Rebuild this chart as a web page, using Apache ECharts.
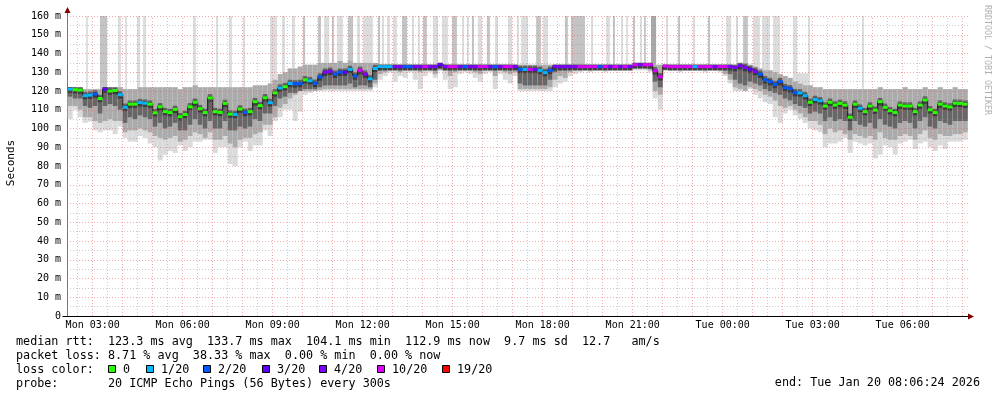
<!DOCTYPE html>
<html><head><meta charset="utf-8">
<script src="https://cdn.jsdelivr.net/npm/echarts@6/dist/echarts.min.js"></script>
<style>html,body{margin:0;padding:0;background:#fff}#c{width:997px;height:397px}</style>
</head><body><div id="c"></div>
<script>
// time axis in hours since Mon 00:00; each step = 10 minutes, first step starts Mon 02:10
const stepStartHour = 2 + 10 / 60;
const stepHours = 10 / 60;
const axisStartHour = 2.143;
const axisEndHour = 32.177;

// median RTT (ms) per step
const median = [
121,120.7,120.5,117.5,117.8,118.4,116,121,120,120.3,
118,111.3,113,113,113.8,113.5,113,108.4,111.6,109,
108.5,110.2,106.3,107.5,111.6,114,110.6,108.5,116.3,109,
108.6,113.4,107.7,107.5,110.4,108.6,109,114.3,112.2,116.4,
113.8,119,121.6,122.3,124,123.8,124,126,125.5,124.1,
127.5,130,130.5,129,130,130,131.5,128,131,129,
126.5,132,133,133,133,133,133,133,133,133,
133,133,133,133,134,133,133,133,133,133,
133,133,133,133,133,133,133,133,133,133,
131.5,131.5,131.5,131.5,131,129.8,131,133,133,133,
133,133,133,133,133,133,133,133,133,133,
133,133,133,134,134,134,134,130.8,127.6,133.3,
133,133,133,133,133,133,133,133,133,133,
133,133,133,132.5,133.5,132.5,131.5,130.5,129,126,
125,123.5,125,121.8,121.2,119.1,119,117.5,114,115.5,
114.8,112,114,112.5,113.4,112.5,106,113,110.8,109,
112,109.8,114.3,111.3,109.5,108.5,112.5,112,112,109,
112.5,115.2,110,108.5,113,112,111.5,113.5,113.4,113];

// lost pings (of 20) per step
const lossCount = [
1,0,0,1,1,2,0,3,0,0,
1,1,0,0,1,1,0,0,0,0,
0,0,0,0,0,0,0,0,0,0,
0,0,0,1,0,2,0,0,0,0,
1,0,1,0,1,2,2,0,1,2,
2,4,4,2,2,3,1,2,10,4,
1,1,1,1,1,4,4,2,2,4,
4,10,4,4,3,4,10,10,4,2,
4,4,10,10,4,2,4,10,10,4,
2,1,10,4,1,1,2,4,4,4,
4,4,10,10,10,10,2,10,4,10,
4,10,4,10,4,10,10,10,10,10,
10,10,10,10,10,1,10,10,10,4,
10,10,4,4,4,4,3,4,2,2,
2,2,2,2,2,2,1,1,0,1,
1,0,0,0,0,0,0,0,1,0,
0,0,0,0,0,0,0,0,0,0,
0,0,0,0,0,0,0,0,0,0];

// smoke: lowest ping, lower medium edge, lower dark edge, upper edge (ms)
const smokeMin = [
105,110,106,103,103.6,99,98,99,99,97,
101,95,93,93,96,95,92,90,83,86,
88,87,91,88,90,93,93,94,94,87,
90,90,81,80,90,93,88,91,91,99,
96,104,106,110,110,104,109,118,119,120,
120,120,120,120,120,120,120,120,120,120,
120,122,126,128,130,125,128,127,130,126,
121,128,130,127,131,126,121,122,129,130,
129,127,125,129,130,121,129,126,124,128,
120,120,120,120,120,120,120,122,124,125,
128,129,130,131,130,131,131,130,131,131,
131,131,131,131,131,131,130,116,110,131,
131,131,130,131,131,131,131,130,131,131,
130,128,124,120,120,120,121,118,116,114,
113,106,103,108,110,107,105,103,100,99,
98,90,92,92,93,95,87,93,92,91,
92,84,86,91,90,86,92,93,94,89,
92,93,90,88,91,89,93,93,93,94];
const smokeLow = [
112,112,110,106,106,104,103,104,105,104,
104,98,99,99,100,99,98,96,95,94,
95,96,93,94,96,98,97,95,98,94,
94,96,92,90,94,95,95,97,98,102,
102,106,111,113,116,118,120,120,120,120,
120.5,121,121,121,121,121,121,121,121,121,
121,124,129,130,131,131,130,131,131,131,
130,131,131,129,131,131,128,130,131,131,
131,130,129,131,131,128,131,130,129,130,
121,121,121,121,121,121,122,126,128,127,
130,131,131,131,131,131,131,131,131,131,
131,131,131,132,132,132,131,120,118,131,
131,131,131,131,131,131,131,131,131,131,
131,129,126,122,121,120,122,121,120,118,
117,115,112,111,112,110,108,106,104,104,
102,97,100,98,99,97,94,97,96,95,
96,94,98,95,94,94,96,97,96,94,
97,99,95,94,97,96,96,97,97,98];
const smokeDark = [
117,116,116,112,111,112,108,112,113,112,
110,103,106,105,107,106,105,101,103,100,
101,103,99,99,102,105,102,100,104,100,
100,104,99,99,101,100,101,105,104,108,
108,112,116,117,119,119,120,121,121,121,
122,123,123,123,123,123,124,122,123,123,
122,126,131,132,132,132,132,132,132,132,
132,132,132,131,132,132,131,132,132,132,
132,132,131,132,132,131,132,132,131,132,
124,123,123,123,123,123,126,130,131,131,
132,132,132,132,132,132,132,132,132,132,
132,132,132,133,133,133,132,125,122,132,
132,132,132,132,132,132,132,132,132,132,
132,131,129,126,124,123,125,124,123,121,
120,119,118,116,115,113,112,111,108,109,
108,104,106,104,105,104,99,104,102,101,
103,100,105,102,101,100,103,104,103,100,
104,106,101,100,104,103,102,104,104,104];
const smokeTop = [
122,122,122,121,121,121,121,122,122,122,
122,121,121,121,122,122,122,122,122,122,
122,122,121,122,122,123,122,122,122,122,
122,122,122,122,122,122,122,123,123,123,
124,126,129,130,132,132,133,134,134,134,
135,135,135,135,136,135,136,135,135,135,
135,135,134,134,134,134,134,134,134,134,
134,134,134,134,135,134,134,134,134,134,
134,134,134,134,134,134,134,134,134,134,
134,134,134,134,134,134,134,134,134,134,
134,134,134,134,134,134,134,134,134,134,
134,134,134,135,135,135,135,134,134,134,
134,134,134,134,134,134,134,134,134,134,
134,134,134,134,135,135,134,133,132,131,
131,130,129,128,127,125,124,123,123,122,
122,121,121,121,121,121,121,121,121,121,
121,121,122,121,121,121,121,122,121,121,
121,122,121,121,122,121,121,122,121,121];

// isolated high pings: [fromHour, toHour, baseMs, topMs, pingsCount]
const spikes = [
[2.78,2.84,121,160,1],[3.24,3.48,121,160,2],[3.84,3.94,121,160,1],[4.08,4.14,121,160,1],
[4.48,4.58,121,160,1],[4.68,4.78,121,160,1],[6.34,6.44,121,160,1],[7.11,7.18,121,160,1],
[7.54,7.64,121,160,1],[8.01,8.08,121,160,1],[8.91,9.14,122,160,1],[9.31,9.41,128,160,1],
[9.64,9.74,130,160,1],[10.01,10.08,133,160,2],[10.51,10.61,133,160,2],[10.71,10.88,133,160,1],
[10.98,11.04,133,160,2],[11.14,11.34,133,160,1],[11.51,11.68,133,160,2],[11.81,11.91,133,160,1],
[12.01,12.34,133,160,1],[12.51,12.58,133,160,2],[12.64,12.71,133,160,1],[12.81,12.91,133,160,1],
[13.01,13.14,133,160,1],[13.31,13.48,133,160,2],[13.64,13.71,133,160,1],[13.84,13.91,133,160,1],
[14.01,14.14,133,160,2],[14.34,14.51,133,160,1],[14.64,14.84,133,160,1],[14.98,15.14,133,160,2],
[15.31,15.38,133,160,1],[15.48,15.54,133,160,1],[15.64,15.71,133,160,2],[15.84,15.98,133,160,1],
[16.14,16.24,133,160,2],[16.41,16.51,133,160,1],[16.84,16.98,133,160,1],[17.14,17.21,133,160,1],
[17.28,17.51,133,160,1],[17.78,17.94,133,160,2],[18.01,18.18,133,160,1],[18.74,18.84,133,160,2],
[18.94,19.41,133,160,2],[19.61,19.68,133,160,1],[20.11,20.24,133,160,1],[20.34,20.41,133,160,2],
[20.61,20.68,133,160,1],[20.78,20.84,133,160,1],[21.01,21.08,133,160,2],[21.24,21.31,133,160,1],
[21.38,21.44,133,160,2],[21.61,21.78,133,160,3],[22.11,22.18,133,160,1],[22.51,22.58,133,160,2],
[23.01,23.08,133,160,1],[23.51,23.58,133,160,2],[24.11,24.28,133,160,1],[24.44,24.51,133,160,1],
[24.68,24.84,133,160,2],[25.01,25.24,130,160,1],[25.31,25.58,128,160,1],[25.68,25.91,126,160,1],
[26.34,26.48,122,160,1],[26.48,26.91,122,129.5,1],[26.84,26.91,121,160,1],[28.64,28.71,121,160,1]];

const lossLevels = [0, 1, 2, 3, 4, 10, 19];
const lossColors = ['#26ff00', '#00b8ff', '#0059ff', '#5e00ff', '#7e00ff', '#dd00ff', '#ff0000'];
const lossLegend = ['0', '1/20', '2/20', '3/20', '4/20', '10/20', '19/20'];

const xTickHours = [3, 6, 9, 12, 15, 18, 21, 24, 27, 30];
const xTickLabels = ['Mon 03:00','Mon 06:00','Mon 09:00','Mon 12:00','Mon 15:00','Mon 18:00','Mon 21:00','Tue 00:00','Tue 03:00','Tue 06:00'];

const statLines = [
  'median rtt:  123.3 ms avg  133.7 ms max  104.1 ms min  112.9 ms now  9.7 ms sd  12.7   am/s',
  'packet loss: 8.71 % avg  38.33 % max  0.00 % min  0.00 % now',
  'loss color:',
  'probe:       20 ICMP Echo Pings (56 Bytes) every 300s'
];
const endText = 'end: Tue Jan 20 08:06:24 2026';

const MONO = 'DejaVu Sans Mono';

const stepData = median.map((m, i) => [stepStartHour + i * stepHours, smokeMin[i], smokeLow[i], smokeDark[i], smokeTop[i], m, lossCount[i]]);
const medianLine = median.map((m, i) => [stepStartHour + i * stepHours, m]);
medianLine.push([stepStartHour + median.length * stepHours, median[median.length - 1]]);

function renderSmoke(params, api) {
  const t0 = api.value(0), t1 = t0 + stepHours;
  const xL = api.coord([t0, 0])[0], xR = api.coord([t1, 0])[0];
  const y = v => api.coord([t0, v])[1];
  const mn = api.value(1), lo = api.value(2), dk = api.value(3), tp = api.value(4), md = api.value(5);
  const rect = (a, b, fill) => ({type: 'rect', shape: {x: xL, y: y(b), width: xR - xL, height: Math.max(0, y(a) - y(b))}, style: {fill}});
  return {type: 'group', children: [
    rect(mn, tp, '#dadada'),
    rect(lo, tp, '#ababab'),
    rect(dk, Math.min(tp, md + 2), '#666666'),
    rect(md - 2, Math.min(tp, md + 1), '#3c3c3c')
  ]};
}
function renderMedian(params, api) {
  const t0 = api.value(0), t1 = t0 + stepHours;
  const p0 = api.coord([t0, api.value(5)]), p1 = api.coord([t1, api.value(5)]);
  const idx = lossLevels.indexOf(api.value(6));
  return {type: 'rect', shape: {x: p0[0], y: p0[1] - 1.5, width: p1[0] - p0[0], height: 3}, style: {fill: lossColors[idx < 0 ? 0 : idx]}};
}
const spikeShade = ['#ffffff', '#dcdcdc', '#c4c4c4', '#a8a8a8'];
function renderSpike(params, api) {
  const a = api.coord([api.value(0), api.value(3)]);
  const b = api.coord([api.value(1), api.value(2)]);
  return {type: 'rect', shape: {x: a[0], y: a[1], width: b[0] - a[0], height: b[1] - a[1]}, style: {fill: spikeShade[api.value(4)]}};
}

function gridSeries(vals, key, color, z) {
  return {type: 'line', data: [], silent: true, z, animation: false,
    markLine: {silent: true, symbol: ['none', 'none'], label: {show: false}, animation: false,
      lineStyle: {color, width: 1, type: [1, 2]}, emphasis: {disabled: true},
      data: vals.map(v => ({[key]: v}))}};
}
const yMajor = [], yMinor = [], xMajor = [], xMinor = [];
for (let v = 10; v <= 160; v += 10) yMajor.push(v);
for (let v = 5; v < 160; v += 10) yMinor.push(v);
for (let h = 3; h <= 32; h++) xMajor.push(h);
for (let h = 2.5; h <= 32; h++) xMinor.push(h);

const graphics = [
  {type: 'text', x: 11, y: 163, rotation: Math.PI / 2, style: {text: 'Seconds', font: '11px ' + MONO, fill: '#000', textAlign: 'center', textVerticalAlign: 'middle'}},
  {type: 'text', x: 987, y: 60, rotation: -Math.PI / 2, style: {text: 'RRDTOOL / TOBI OETIKER', font: '8.3px ' + MONO, fill: '#b0b0b0', textAlign: 'center', textVerticalAlign: 'middle'}},
  {type: 'line', shape: {x1: 67.5, y1: 16, x2: 67.5, y2: 11}, style: {stroke: '#777', lineWidth: 1}},
  {type: 'polygon', shape: {points: [[64.5, 13], [70.5, 13], [67.5, 7]]}, style: {fill: '#800000'}},
  {type: 'line', shape: {x1: 62.5, y1: 316.5, x2: 968, y2: 316.5}, style: {stroke: '#000', lineWidth: 1}},
  {type: 'polygon', shape: {points: [[968, 313.5], [968, 319.5], [974, 316.5]]}, style: {fill: '#800000'}},
  {type: 'text', x: 980, y: 383, style: {text: endText, font: '11.75px ' + MONO, fill: '#000', textAlign: 'right', textVerticalAlign: 'middle'}}
];
const lineY = [341.5, 355.5, 369.5, 383.5];
statLines.forEach((t, i) => graphics.push({type: 'text', x: 16, y: lineY[i], style: {text: t, font: '11.75px ' + MONO, fill: '#000', textVerticalAlign: 'middle'}}));
const boxX = [108, 146, 203, 262, 319, 377, 442];
lossLegend.forEach((t, i) => {
  graphics.push({type: 'rect', shape: {x: boxX[i] + 0.5, y: 365.5, width: 7, height: 7}, style: {fill: lossColors[i], stroke: '#000', lineWidth: 1}});
  graphics.push({type: 'text', x: boxX[i] + 15, y: 369.5, style: {text: t, font: '11.75px ' + MONO, fill: '#000', textVerticalAlign: 'middle'}});
});

const chart = echarts.init(document.getElementById('c'), null, {renderer: 'canvas'});
chart.setOption({
  animation: false,
  backgroundColor: '#fff',
  grid: {left: 67, right: 29, top: 16, bottom: 81, containLabel: false},
  xAxis: {type: 'value', min: axisStartHour, max: axisEndHour,
    axisLine: {show: false},
    axisTick: {show: false},
    splitLine: {show: false},
    axisLabel: {customValues: xTickHours, margin: 4, color: '#000', fontFamily: MONO, fontSize: 10,
      formatter: v => xTickLabels[xTickHours.indexOf(Math.round(v))] || ''}},
  yAxis: {type: 'value', min: 0, max: 160, interval: 10,
    axisLine: {show: true, lineStyle: {color: '#777'}},
    axisTick: {show: false},
    splitLine: {show: false},
    axisLabel: {margin: 6, color: '#000', fontFamily: MONO, fontSize: 10, formatter: v => v === 0 ? '0' : v + ' m'}},
  series: [
    {type: 'custom', renderItem: renderSpike, data: spikes, z: 1, silent: true, encode: {x: [0, 1], y: [2, 3]}},
    {type: 'custom', renderItem: renderSmoke, data: stepData, z: 2, silent: true, encode: {x: 0, y: [1, 4]}},
    gridSeries(yMinor, 'yAxis', 'rgba(140,140,140,0.45)', 3),
    gridSeries(xMinor, 'xAxis', 'rgba(140,140,140,0.45)', 3),
    gridSeries(yMajor, 'yAxis', 'rgba(225,90,90,0.5)', 3),
    gridSeries(xMajor, 'xAxis', 'rgba(225,90,90,0.5)', 3),
    {type: 'line', data: medianLine, step: 'end', symbol: 'none', z: 4, silent: true, lineStyle: {color: '#111', width: 1}},
    {type: 'custom', renderItem: renderMedian, data: stepData, z: 5, silent: true, encode: {x: 0, y: 5}}
  ],
  graphic: graphics
});
</script></body></html>
